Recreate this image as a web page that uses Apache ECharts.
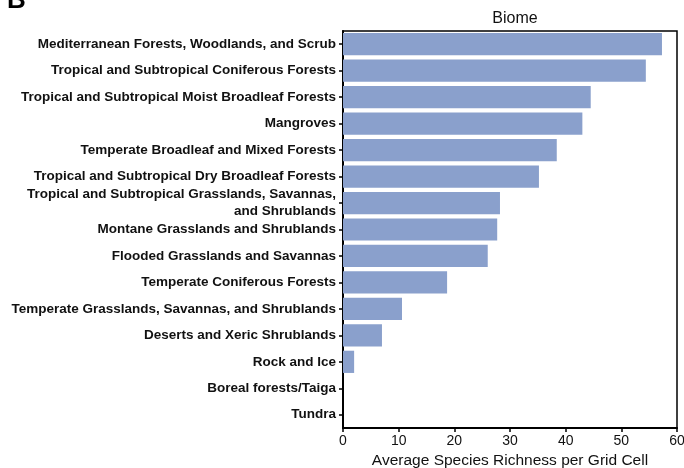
<!DOCTYPE html>
<html>
<head>
<meta charset="utf-8">
<script src="https://cdn.jsdelivr.net/npm/echarts@6/dist/echarts.min.js"></script>
<style>
  html, body { margin: 0; padding: 0; background: #fff; }
  #chart { width: 684px; height: 468px; }
</style>
</head>
<body>
<div id="chart"></div>
<script>
// biomes, top to bottom
var biomes = [
  'Mediterranean Forests, Woodlands, and Scrub',
  'Tropical and Subtropical Coniferous Forests',
  'Tropical and Subtropical Moist Broadleaf Forests',
  'Mangroves',
  'Temperate Broadleaf and Mixed Forests',
  'Tropical and Subtropical Dry Broadleaf Forests',
  'Tropical and Subtropical Grasslands, Savannas,\nand Shrublands',
  'Montane Grasslands and Shrublands',
  'Flooded Grasslands and Savannas',
  'Temperate Coniferous Forests',
  'Temperate Grasslands, Savannas, and Shrublands',
  'Deserts and Xeric Shrublands',
  'Rock and Ice',
  'Boreal forests/Taiga',
  'Tundra'
];
// average species richness per grid cell
var richness = [57.3, 54.4, 44.5, 43.0, 38.4, 35.2, 28.2, 27.7, 26.0, 18.7, 10.6, 7.0, 2.0, 0, 0];
var xTicks = { min: 0, max: 60, interval: 10 };

var myChart = echarts.init(document.getElementById('chart'));
var option = {
  animation: false,
  title: {
    text: 'Biome',
    left: 510,
    textAlign: 'center',
    top: 6,
    textStyle: { fontFamily: 'Liberation Sans', fontSize: 16, fontWeight: 'normal', color: '#111' }
  },
  graphic: [{
    type: 'text',
    left: 7,
    top: -12,
    style: { text: 'B', fontFamily: 'Liberation Sans', fontSize: 26, fontWeight: 'bold', fill: '#000' }
  }],
  grid: {
    left: 343, right: 7, top: 31, bottom: 40,
    outerBoundsMode: 'none',
    containLabel: false,
    show: true, borderColor: '#000', borderWidth: 1.5
  },
  xAxis: {
    type: 'value',
    min: xTicks.min, max: xTicks.max, interval: xTicks.interval,
    name: 'Average Species Richness per Grid Cell',
    nameLocation: 'middle',
    nameGap: 24,
    nameTextStyle: { fontFamily: 'Liberation Sans', fontSize: 15.5, color: '#111' },
    axisLine: { show: true, lineStyle: { color: '#000', width: 2 } },
    axisTick: { show: true, length: 4, lineStyle: { color: '#000', width: 1.5 } },
    axisLabel: { fontFamily: 'Liberation Sans', fontSize: 14, color: '#111', margin: 6 },
    splitLine: { show: false }
  },
  yAxis: {
    type: 'category',
    data: biomes,
    inverse: true,
    axisLine: { show: true, lineStyle: { color: '#000', width: 2 } },
    axisTick: { show: true, alignWithLabel: true, length: 4, lineStyle: { color: '#000', width: 1.5 } },
    axisLabel: {
      fontFamily: 'Liberation Sans', fontSize: 13.5, fontWeight: 'bold', color: '#111',
      margin: 7, lineHeight: 17, align: 'right', interval: 0
    }
  },
  series: [{
    type: 'bar',
    data: richness,
    barCategoryGap: '16%',
    itemStyle: { color: '#8aa0cc' }
  }]
};
myChart.setOption(option);
window.addEventListener('resize', function () {
  myChart.resize();
}, false);
</script>
</body>
</html>
